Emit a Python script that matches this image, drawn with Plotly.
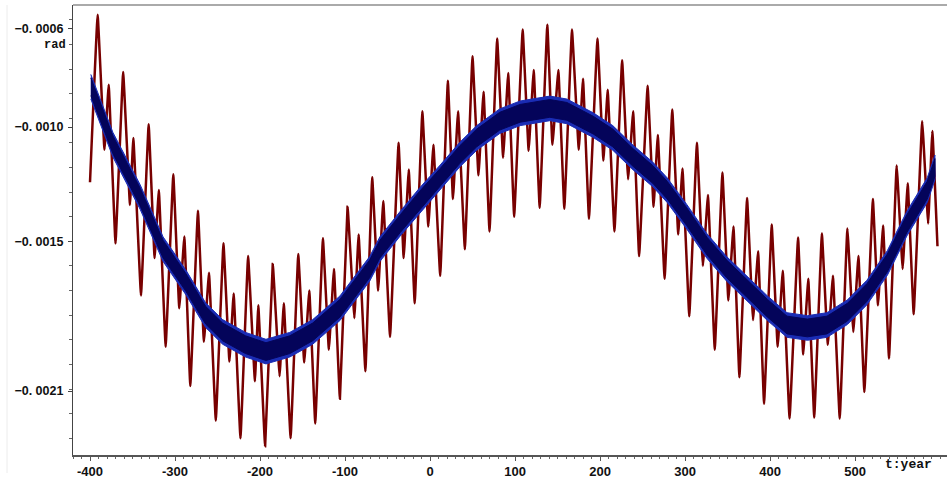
import plotly.graph_objects as go

# Full signal (dark red): turning points, t in years, value in rad
red_t = [
    -400, -391, -383, -378, -370, -361, -353, -349, -340, -331,
    -324, -319, -311, -302, -295, -289, -282, -273, -266, -260,
    -252, -243, -236, -231, -223, -214, -206, -202, -194, -185,
    -177, -172, -164, -155, -148, -142, -135, -126, -119, -113,
    -106, -97, -89, -84, -76, -68, -61, -55, -47, -37,
    -31, -25, -18, -9, -2, 4, 12, 21, 27, 33,
    41, 50, 57, 63, 70, 79, 86, 92, 99, 109,
    116, 122, 129, 138, 144, 151, 158, 167, 175, 180,
    187, 197, 204, 209, 217, 226, 233, 239, 246, 256,
    263, 268, 276, 285, 292, 297, 305, 314, 321, 327,
    335, 344, 351, 357, 364, 373, 380, 386, 393, 402,
    409, 415, 423, 433, 439, 445, 452, 461, 468, 474,
    482, 491, 498, 504, 511, 521, 527, 533, 540, 549,
    556, 562, 569, 579, 586, 591, 597,
]
red_v = [
    -0.001260, -0.000580, -0.001128, -0.000864, -0.001508, -0.000812, -0.001352, -0.001080, -0.001720, -0.001024,
    -0.001568, -0.001292, -0.001928, -0.001228, -0.001772, -0.001480, -0.002088, -0.001376, -0.001908, -0.001628,
    -0.002228, -0.001508, -0.001988, -0.001712, -0.002300, -0.001560, -0.002068, -0.001760, -0.002332, -0.001592,
    -0.002048, -0.001752, -0.002300, -0.001552, -0.001992, -0.001700, -0.002240, -0.001488, -0.001940, -0.001612,
    -0.002140, -0.001360, -0.001812, -0.001472, -0.002028, -0.001240, -0.001700, -0.001336, -0.001888, -0.001100,
    -0.001568, -0.001208, -0.001752, -0.000972, -0.001440, -0.001108, -0.001640, -0.000848, -0.001328, -0.000972,
    -0.001532, -0.000748, -0.001232, -0.000892, -0.001460, -0.000676, -0.001160, -0.000816, -0.001400, -0.000640,
    -0.001132, -0.000804, -0.001364, -0.000620, -0.001108, -0.000804, -0.001368, -0.000640, -0.001128, -0.000840,
    -0.001408, -0.000676, -0.001172, -0.000884, -0.001460, -0.000764, -0.001248, -0.000972, -0.001560, -0.000868,
    -0.001360, -0.001068, -0.001652, -0.000964, -0.001472, -0.001204, -0.001804, -0.001100, -0.001600, -0.001312,
    -0.001940, -0.001220, -0.001740, -0.001440, -0.002052, -0.001324, -0.001820, -0.001540, -0.002160, -0.001432,
    -0.001928, -0.001620, -0.002220, -0.001484, -0.001960, -0.001652, -0.002216, -0.001468, -0.001920, -0.001640,
    -0.002220, -0.001448, -0.001868, -0.001560, -0.002112, -0.001328, -0.001760, -0.001436, -0.001976, -0.001192,
    -0.001612, -0.001264, -0.001796, -0.001012, -0.001428, -0.001052, -0.001520,
]

# Long-period component (blue band centre)
blue_t = [
    -399, -373, -341, -314, -287, -264, -244, -217, -193, -165,
    -138, -106, -71, -59, -35, -12, 12, 35, 55, 82,
    106, 141, 161, 192, 215, 239, 262, 279, 302, 326,
    349, 373, 397, 420, 444, 467, 491, 514, 538, 561,
    585, 594,
]
blue_v = [
    -0.000872, -0.001108, -0.001320, -0.001532, -0.001668, -0.001800, -0.001868, -0.001920, -0.001948, -0.001920,
    -0.001868, -0.001772, -0.001612, -0.001532, -0.001428, -0.001332, -0.001240, -0.001148, -0.001080, -0.001012,
    -0.000980, -0.000960, -0.000972, -0.001028, -0.001080, -0.001160, -0.001228, -0.001292, -0.001400, -0.001520,
    -0.001612, -0.001692, -0.001772, -0.001840, -0.001852, -0.001840, -0.001788, -0.001708, -0.001588, -0.001428,
    -0.001292, -0.001200,
]

x_tick_vals = [-400, -300, -200, -100, 0, 100, 200, 300, 400, 500]
x_tick_text = ["-400", "-300", "-200", "-100", "0", "100", "200", "300", "400", "500"]
y_tick_vals = [-0.000636, -0.001036, -0.0015, -0.002108]
y_tick_text = ["\u22120. 0006", "\u22120. 0010", "\u22120. 0015", "\u22120. 0021"]

# band half-thickness (drawing style, in rad)
BAND_OUTER = 0.000050
BAND_INNER = 0.000036

X_RANGE = [-420, 608.2]
Y_RANGE = [-0.002368, -0.00054]

RED = "#780000"
BLUE_EDGE = "#1a2cb4"
BLUE_CORE = "#04045a"


def band(t, v, h):
    xs = list(t) + list(reversed(t))
    ys = [a + h for a in v] + [a - h for a in reversed(v)]
    return xs, ys


fig = go.Figure()

fig.add_trace(go.Scatter(
    x=red_t, y=red_v, mode="lines",
    line=dict(color=RED, width=2.5, shape="spline", smoothing=0.2),
    hoverinfo="skip", showlegend=False,
))

for h, col in ((BAND_OUTER, BLUE_EDGE), (BAND_INNER, BLUE_CORE)):
    bx, by = band(blue_t, blue_v, h)
    fig.add_trace(go.Scatter(
        x=bx, y=by, mode="lines", fill="toself", fillcolor=col,
        line=dict(color=col, width=1),
        hoverinfo="skip", showlegend=False,
    ))

tick_font = dict(family="Liberation Sans", size=13, color="#111111", weight="bold")

fig.update_layout(
    width=947, height=479,
    margin=dict(l=73, r=0, t=5, b=17),
    paper_bgcolor="white", plot_bgcolor="white",
    xaxis=dict(
        range=X_RANGE, tickvals=x_tick_vals, ticktext=x_tick_text,
        showgrid=False, zeroline=False,
        showline=True, linecolor="#555555", linewidth=1.5,
        ticks="outside", ticklen=4, tickcolor="#555555", tickwidth=1,
        minor=dict(dtick=10, tick0=0, ticks="outside", ticklen=2, tickcolor="#666666"),
        tickfont=tick_font, ticklabelstandoff=0,
    ),
    yaxis=dict(
        range=Y_RANGE, tickvals=y_tick_vals, ticktext=y_tick_text,
        showgrid=False, zeroline=False,
        showline=True, linecolor="#444444", linewidth=1.2,
        ticks="outside", ticklen=4, tickcolor="#444444", tickwidth=1,
        minor=dict(dtick=0.0001, tick0=-0.0015, ticks="outside", ticklen=3, tickcolor="#666666"),
        tickfont=dict(family="Liberation Sans", size=12.5, color="#111111", weight="bold"),
        ticklabelstandoff=2,
    ),
    shapes=[
        dict(type="line", xref="paper", yref="paper", x0=0, x1=1, y0=1, y1=1,
             line=dict(color="#aaaaaa", width=2)),
        dict(type="line", xref="paper", yref="paper", x0=-0.0755, x1=-0.0755, y0=-0.04, y1=1,
             line=dict(color="#ececec", width=1)),
    ],
    annotations=[
        dict(text="rad", xref="paper", x=0, xanchor="right", xshift=-5,
             yref="y", y=-0.000704, yanchor="middle", showarrow=False,
             font=dict(family="Liberation Mono", size=12, color="#111111", weight="bold")),
        dict(text="t:year", xref="x", x=563, xanchor="center",
             yref="paper", y=-0.022, yanchor="middle", showarrow=False,
             font=dict(family="Liberation Mono", size=13, color="#111111", weight="bold")),
    ],
)

fig.write_html("out.html")
